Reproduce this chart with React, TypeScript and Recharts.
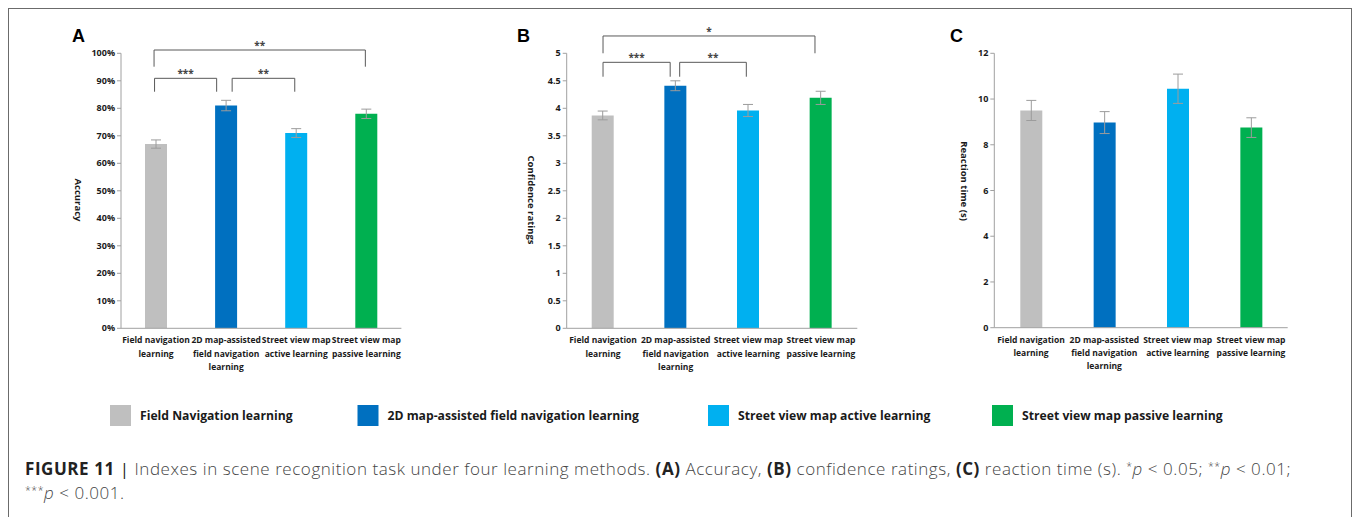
import React from 'react';
import { BarChart, Bar, XAxis, YAxis, ErrorBar, Cell, ReferenceLine } from 'recharts';

// ---------- data ----------
const categories = [
  'Field navigation learning',
  '2D map-assisted field navigation learning',
  'Street view map active learning',
  'Street view map passive learning',
];
const categoryTickLines = [
  ['Field navigation', 'learning'],
  ['2D map-assisted', 'field navigation', 'learning'],
  ['Street view map', 'active learning'],
  ['Street view map', 'passive learning'],
];
const legendLabels = [
  'Field Navigation learning',
  '2D map-assisted field navigation learning',
  'Street view map active learning',
  'Street view map passive learning',
];

const accuracyValues = [67, 81, 71, 78];
const accuracyErrors = [1.5, 1.9, 1.6, 1.7];
const accuracyTicks = [0, 10, 20, 30, 40, 50, 60, 70, 80, 90, 100];

const confidenceValues = [3.87, 4.41, 3.96, 4.19];
const confidenceErrors = [0.08, 0.09, 0.11, 0.12];
const confidenceTicks = [0, 0.5, 1, 1.5, 2, 2.5, 3, 3.5, 4, 4.5, 5];

const reactionValues = [9.5, 8.97, 10.45, 8.75];
const reactionErrors = [0.44, 0.48, 0.64, 0.43];
const reactionTicks = [0, 2, 4, 6, 8, 10, 12];

const accuracyBrackets = [
  { from: 0, to: 3, level: 101.2, label: '**' },
  { from: 0, to: 1, level: 90.9, label: '***' },
  { from: 1, to: 2, level: 90.9, label: '**' },
];
const confidenceBrackets = [
  { from: 0, to: 3, level: 5.315, label: '*' },
  { from: 0, to: 1, level: 4.836, label: '***' },
  { from: 1, to: 2, level: 4.836, label: '**' },
];

// ---------- styles ----------
const barColors = ['#BFBFBF', '#0070C0', '#00B0F0', '#00B050'];
const AXIS = '#A0A0A0';
const FONT = "'Open Sans', 'Noto Sans', sans-serif";
const TXT = '#1a1a1a';

// pixel offsets of bracket ends and leg lengths (layout only)
const accuracyBracketStyle = [
  { dx1: -2, dx2: -1, leg: 16.7 },
  { dx1: -1.5, dx2: -9.5, leg: 13.4 },
  { dx1: 6, dx2: -1.5, leg: 13.4 },
];
const confidenceBracketStyle = [
  { dx1: 0, dx2: -6, leg: 17.3 },
  { dx1: 0, dx2: -5.5, leg: 14.4 },
  { dx1: 4, dx2: -2, leg: 14.4 },
];

const CategoryTick = (props: any) => {
  const { x, y, payload } = props;
  const lines = categoryTickLines[payload.index] || [String(payload.value)];
  return (
    <text x={x} y={y} textAnchor="middle" fontFamily={FONT} fontWeight={700} fontSize={8.5} fill={TXT}>
      {lines.map((l, k) => (
        <tspan key={k} x={x} dy={k === 0 ? 15 : 13.3}>
          {l}
        </tspan>
      ))}
    </text>
  );
};

const makeBracketShape = (label: string, st: { dx1: number; dx2: number; leg: number }) => (p: any) => {
  const x1 = p.x1 + st.dx1;
  const x2 = p.x2 + st.dx2;
  const y = p.y1;
  return (
    <g>
      <path
        d={`M${x1},${y + st.leg} L${x1},${y} L${x2},${y} L${x2},${y + st.leg}`}
        fill="none"
        stroke="#595959"
        strokeWidth={1}
      />
      <text x={(x1 + x2) / 2} y={y - 1} textAnchor="middle" fontFamily={FONT} fontWeight={700} fontSize={10} fill="#444">
        {label}
      </text>
    </g>
  );
};

type PanelProps = {
  left: number;
  top: number;
  width: number;
  height: number;
  margin: { top: number; right: number; bottom: number; left: number };
  values: number[];
  errors: number[];
  ticks: number[];
  domain: [number, number];
  tickFormatter?: (v: number) => string;
  brackets?: { from: number; to: number; level: number; label: string }[];
  bracketStyle?: { dx1: number; dx2: number; leg: number }[];
};

const Panel = ({ left, top, width, height, margin, values, errors, ticks, domain, tickFormatter, brackets = [], bracketStyle = [] }: PanelProps) => {
  const data = categories.map((name, i) => ({ name, value: values[i], err: errors[i] }));
  return (
    <div style={{ position: 'absolute', left, top }}>
      <BarChart width={width} height={height} data={data} margin={margin} barCategoryGap={0}>
        <XAxis
          dataKey="name"
          interval={0}
          tick={<CategoryTick />}
          tickLine={false}
          tickSize={0}
          tickMargin={0}
          axisLine={{ stroke: AXIS }}
          height={45}
        />
        <YAxis
          type="number"
          domain={domain}
          ticks={ticks}
          interval={0}
          allowDataOverflow
          width={50}
          tickFormatter={tickFormatter}
          axisLine={{ stroke: AXIS }}
          tickLine={{ stroke: AXIS }}
          tickSize={4}
          tickMargin={2}
          tick={{ fontFamily: FONT, fontWeight: 700, fontSize: 9, fill: TXT }}
        />
        <Bar dataKey="value" barSize={22} isAnimationActive={false}>
          {data.map((d, i) => (
            <Cell key={i} fill={barColors[i]} />
          ))}
          <ErrorBar dataKey="err" width={5} stroke="#9c9c9c" strokeWidth={1} isAnimationActive={false} />
        </Bar>
        {brackets.map((b, i) => (
          <ReferenceLine
            key={i}
            ifOverflow="visible"
            segment={[
              { x: categories[b.from], y: b.level },
              { x: categories[b.to], y: b.level },
            ]}
            shape={makeBracketShape(b.label, bracketStyle[i])}
          />
        ))}
      </BarChart>
    </div>
  );
};

const supStyle: React.CSSProperties = { fontSize: 10.5, position: 'relative', top: -5 };
const boldStyle: React.CSSProperties = { fontWeight: 700, color: '#222' };

export default function App() {
  const legendX = [110, 357.5, 708, 992];
  return (
    <div style={{ position: 'absolute', left: 0, top: 0, width: 1357, height: 517, overflow: 'hidden', background: '#fff' }}>
      <div
        style={{
          position: 'absolute',
          left: 8,
          top: 8,
          width: 1344,
          height: 560,
          border: '1px solid #6b6b6b',
          boxSizing: 'border-box',
        }}
      />
      <Panel
        left={60}
        top={20}
        width={360}
        height={370}
        margin={{ top: 33.3, right: 18.6, bottom: 16.7, left: 11 }}
        values={accuracyValues}
        errors={accuracyErrors}
        ticks={accuracyTicks}
        domain={[0, 100]}
        tickFormatter={(v) => `${v}%`}
        brackets={accuracyBrackets}
        bracketStyle={accuracyBracketStyle}
      />
      <Panel
        left={510}
        top={20}
        width={360}
        height={370}
        margin={{ top: 33.3, right: 12.7, bottom: 16.7, left: 6.7 }}
        values={confidenceValues}
        errors={confidenceErrors}
        ticks={confidenceTicks}
        domain={[0, 5]}
        brackets={confidenceBrackets}
        bracketStyle={confidenceBracketStyle}
      />
      <Panel
        left={940}
        top={20}
        width={370}
        height={370}
        margin={{ top: 33.3, right: 22.3, bottom: 17.3, left: 4.3 }}
        values={reactionValues}
        errors={reactionErrors}
        ticks={reactionTicks}
        domain={[0, 12]}
      />
      <svg width={1357} height={517} style={{ position: 'absolute', left: 0, top: 0, pointerEvents: 'none' }}>
        <g fontFamily="'Liberation Sans', Arial, sans-serif" fontWeight={700} fontSize={18} fill="#000">
          <text x={72} y={42}>A</text>
          <text x={517} y={42}>B</text>
          <text x={950} y={42}>C</text>
        </g>
        <g fontFamily={FONT} fontWeight={700} fontSize={9.5} fill={TXT} textAnchor="middle">
          <text x={78.5} y={200} transform="rotate(90 78.5 200)" dominantBaseline="central">Accuracy</text>
          <text x={531} y={200} transform="rotate(90 531 200)" dominantBaseline="central">Confidence ratings</text>
          <text x={964} y={181} transform="rotate(90 964 181)" dominantBaseline="central">Reaction time (s)</text>
        </g>
        {legendLabels.map((l, i) => (
          <g key={i}>
            <rect x={legendX[i]} y={405} width={21} height={21} fill={barColors[i]} />
            <text x={legendX[i] + 30} y={420} fontFamily={FONT} fontWeight={700} fontSize={12.2} fill={TXT}>
              {l}
            </text>
          </g>
        ))}
      </svg>
      <div
        style={{
          position: 'absolute',
          left: 25,
          top: 457.5,
          fontFamily: "'Open Sans', sans-serif",
          fontWeight: 300,
          fontSize: 17,
          letterSpacing: 0.55,
          lineHeight: '22px',
          color: '#444',
          whiteSpace: 'nowrap',
        }}
      >
        <div>
          <span style={boldStyle}>FIGURE 11</span>
          <span style={{ fontWeight: 400, color: '#222' }}> | </span>
          Indexes in scene recognition task under four learning methods. <span style={boldStyle}>(A)</span> Accuracy,{' '}
          <span style={boldStyle}>(B)</span> confidence ratings, <span style={boldStyle}>(C)</span> reaction time (s).{' '}
          <span style={supStyle}>*</span>
          <i>p</i> &lt; 0.05; <span style={supStyle}>**</span>
          <i>p</i> &lt; 0.01;
        </div>
        <div>
          <span style={supStyle}>***</span>
          <i>p</i> &lt; 0.001.
        </div>
      </div>
    </div>
  );
}
